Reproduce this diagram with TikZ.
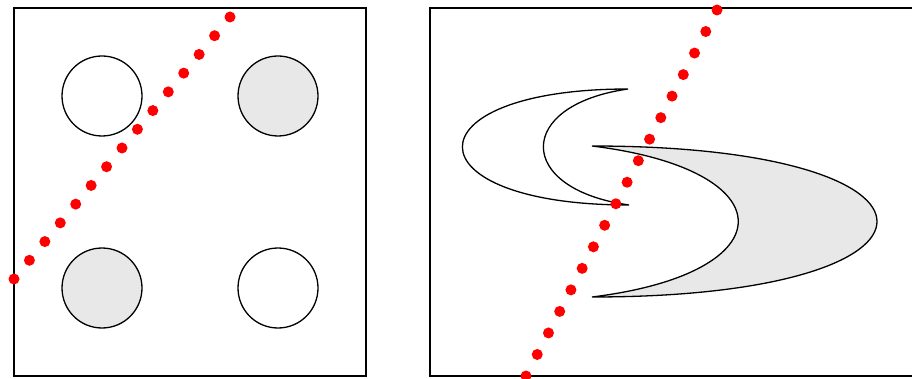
\documentclass[tikz,border=0pt]{standalone}
\usetikzlibrary{calc}
\definecolor{shade}{HTML}{E8E8E8}
\begin{document}
\begin{tikzpicture}[x=1pt,y=-1pt,
  frame/.style={draw=black,line width=1.5pt},
  disc/.style={circle,draw=black,line width=1.3pt,minimum size=80pt,inner sep=0pt},
  moon/.style={draw=black,line width=1.3pt},
  reddot/.style={fill=red}]
\useasboundingbox (0,0) rectangle (912,379);
\clip (0,0) rectangle (912,379);
% left panel
\draw[frame] (14,8) rectangle (366,376);
\node[disc] (c1) at (102,96) {};
\node[disc,fill=shade] (c2) at (278,96) {};
\node[disc,fill=shade] (c3) at (102,288) {};
\node[disc] (c4) at (278,288) {};
% right panel
\draw[frame] (430,8) rectangle (960,376);
\draw[moon,fill=white] (628,89) .. controls (407,89) and (407,205) .. (629,205)
   .. controls (515,189) and (515,105) .. (628,89) -- cycle;
\draw[moon,fill=shade] (592,146) .. controls (972,146) and (972,297) .. (592,297)
   .. controls (787,273) and (787,170) .. (592,146) -- cycle;
% dotted lines
\coordinate (la) at (14,279);
\coordinate (lb) at (230,17);
\coordinate (ra) at (526,376);
\coordinate (rb) at (717,10);
\foreach \i in {0,...,14}{\fill[reddot] ($(la)!\i/14!(lb)$) circle (5.5pt);}
\foreach \i in {0,...,17}{\fill[reddot] ($(ra)!\i/17!(rb)$) circle (5.5pt);}
\end{tikzpicture}
\end{document}
